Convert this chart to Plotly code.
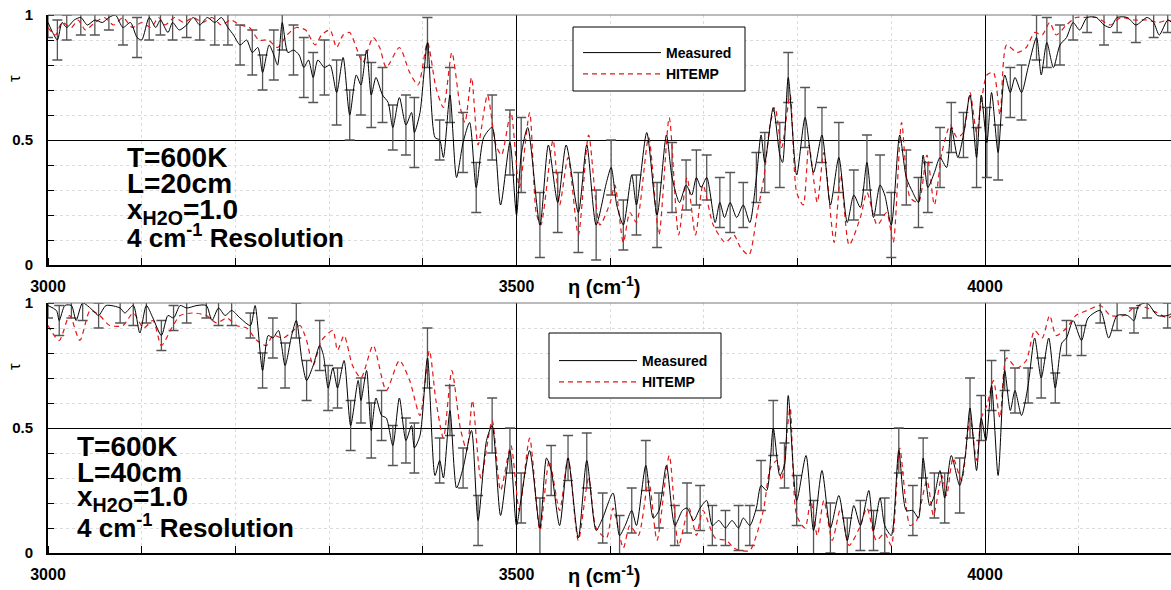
import plotly.graph_objects as go

# ---------------- data: transmissivity spectra (wavenumber in cm^-1) ----------------
# Upper panel: L = 20 cm
top_meas_x = [3000, 3005, 3010, 3015, 3020, 3028, 3035, 3042, 3050, 3058,
              3065, 3072, 3080, 3088, 3095, 3100, 3108, 3115, 3120, 3128,
              3133, 3140, 3148, 3155, 3162, 3170, 3178, 3185, 3192, 3198,
              3205, 3212, 3218, 3224, 3229, 3236, 3241, 3245, 3250, 3256,
              3262, 3268, 3273, 3278, 3283, 3288,
              3295, 3301, 3308, 3315, 3322, 3329, 3334, 3340, 3345, 3350,
              3357, 3363, 3368, 3375, 3382, 3388, 3391, 3397, 3405, 3413,
              3418, 3422, 3429, 3436, 3443, 3450, 3457, 3465, 3474, 3483,
              3493, 3500, 3505, 3512, 3525, 3534, 3544, 3553, 3566, 3575,
              3585,
              3596, 3601, 3607, 3614, 3623, 3628, 3639, 3650, 3660, 3666,
              3674, 3681, 3687, 3692, 3697, 3703, 3712, 3717, 3722, 3728,
              3735, 3742, 3749, 3756, 3761, 3765, 3774, 3781, 3784, 3790,
              3799, 3808, 3817, 3826, 3835, 3844, 3853, 3860, 3867, 3874,
              3881,
              3888, 3893, 3900, 3909, 3916, 3923, 3929, 3934, 3939, 3946,
              3952, 3959, 3964, 3971, 3977, 3984, 3991, 3996, 4002, 4007,
              4014, 4021, 4027, 4032, 4039, 4046, 4055, 4060, 4066, 4073,
              4080, 4087, 4094, 4101, 4109, 4119, 4127, 4134, 4141, 4152,
              4161, 4173, 4180, 4186, 4195, 4200]
top_meas_y = [0.97, 0.93, 0.90, 0.97, 0.95, 0.98, 0.99, 0.96, 0.98, 0.97,
              0.99, 1.00, 0.95, 0.97, 0.91, 0.90, 0.99, 0.95, 0.98, 0.93,
              0.97, 0.94, 0.96, 0.99, 0.96, 0.99, 0.97, 0.99, 0.95, 0.92,
              0.88, 0.90, 0.85, 0.87, 0.77, 0.88, 0.84, 0.80, 0.97, 0.85,
              0.86, 0.84, 0.79, 0.82, 0.75, 0.82,
              0.79, 0.80, 0.69, 0.83, 0.60, 0.76, 0.72, 0.86, 0.68, 0.75,
              0.68, 0.65, 0.55, 0.67, 0.56, 0.61, 0.53, 0.61, 0.89, 0.51,
              0.50, 0.43, 0.68, 0.35, 0.49, 0.57, 0.31, 0.51, 0.55, 0.24,
              0.49, 0.20, 0.44, 0.55, 0.16, 0.48, 0.25, 0.48, 0.21, 0.48,
              0.16,
              0.33, 0.39, 0.24, 0.16, 0.36, 0.24, 0.53, 0.20, 0.52, 0.35,
              0.25, 0.32, 0.28, 0.35, 0.31, 0.35, 0.17, 0.25, 0.19, 0.25,
              0.19, 0.24, 0.17, 0.35, 0.52, 0.41, 0.63, 0.44, 0.41, 0.75,
              0.36, 0.59, 0.37, 0.52, 0.24, 0.43, 0.17, 0.28, 0.23, 0.41,
              0.19,
              0.32, 0.28, 0.16, 0.52, 0.35, 0.29, 0.25, 0.44, 0.31, 0.37,
              0.43, 0.39, 0.55, 0.43, 0.52, 0.68, 0.43, 0.68, 0.49, 0.69,
              0.45, 0.76, 0.69, 0.75, 0.69, 0.79, 0.91, 0.76, 0.89, 0.79,
              0.88, 0.91, 0.97, 0.94, 0.99, 0.99, 0.96, 0.95, 0.99, 0.99,
              0.96, 0.99, 0.97, 0.92, 0.98, 0.97]
# half-widths of the uncertainty bars, one per second measured point
top_meas_err = [0.06, 0.08, 0.05, 0.07, 0.06, 0.05, 0.07, 0.08, 0.09, 0.06,
                0.07, 0.05, 0.06, 0.09, 0.07, 0.08, 0.09, 0.07, 0.10, 0.11,
                0.10, 0.12, 0.10, 0.11, 0.13, 0.10, 0.12, 0.13, 0.11, 0.09,
                0.12, 0.14, 0.10, 0.08, 0.11, 0.12, 0.10, 0.13, 0.13, 0.15,
                0.13, 0.12, 0.16, 0.14, 0.11, 0.10, 0.12, 0.13, 0.14, 0.10,
                0.11, 0.09, 0.10, 0.12, 0.09, 0.10, 0.12, 0.13, 0.10, 0.12,
                0.11, 0.14, 0.10, 0.11, 0.12, 0.13, 0.11, 0.10, 0.10, 0.12,
                0.10, 0.09, 0.12, 0.14, 0.11, 0.10, 0.11, 0.09, 0.10, 0.08,
                0.07, 0.06, 0.08, 0.06, 0.07, 0.06, 0.05]
top_hit_x = [3000, 3008, 3015, 3025, 3032, 3040, 3050, 3060, 3070, 3080,
             3090, 3100, 3110, 3118, 3125, 3135, 3145, 3155, 3165, 3175,
             3185, 3195, 3205, 3215, 3225, 3235, 3245, 3255, 3265, 3275,
             3285, 3292,
             3301, 3308, 3315, 3322, 3329, 3336, 3347, 3354, 3361, 3375,
             3386, 3395, 3405, 3414, 3422, 3431, 3440, 3445, 3452, 3459,
             3469, 3478, 3484, 3494, 3503, 3514, 3521, 3526, 3539, 3546,
             3555, 3566, 3577, 3589,
             3600, 3605, 3614, 3621, 3628, 3641, 3652, 3663, 3673, 3682,
             3691, 3699, 3710, 3723, 3732, 3739, 3748, 3757, 3764, 3771,
             3776, 3783, 3792, 3799, 3806, 3812, 3821, 3828, 3839, 3846,
             3855, 3867, 3874, 3885,
             3895, 3902, 3911, 3920, 3929, 3938, 3946, 3954, 3963, 3970,
             3977, 3984, 3991, 3996, 4002, 4009, 4016, 4023, 4034, 4044,
             4053, 4061, 4069, 4076, 4087, 4097, 4109, 4119, 4134, 4145,
             4159, 4173, 4185, 4195, 4200]
top_hit_y = [0.95, 0.92, 0.97, 0.95, 0.98, 0.94, 0.97, 0.99, 0.96, 0.99,
             0.95, 0.97, 0.95, 0.99, 0.96, 0.99, 0.97, 0.99, 0.97, 0.99,
             0.96, 0.98, 0.96, 0.95, 0.90, 0.90, 0.87, 0.92, 0.95, 0.94,
             0.88, 0.92,
             0.94, 0.87, 0.92, 0.93, 0.87, 0.81, 0.91, 0.87, 0.79, 0.87,
             0.77, 0.72, 0.89, 0.71, 0.63, 0.85, 0.63, 0.57, 0.75, 0.48,
             0.68, 0.48, 0.44, 0.61, 0.31, 0.61, 0.21, 0.16, 0.50, 0.24,
             0.43, 0.12, 0.52, 0.16,
             0.25, 0.32, 0.09, 0.21, 0.17, 0.51, 0.12, 0.59, 0.12, 0.35,
             0.12, 0.32, 0.16, 0.09, 0.12, 0.07, 0.04, 0.21, 0.35, 0.57,
             0.63, 0.47, 0.68, 0.29, 0.24, 0.48, 0.25, 0.45, 0.09, 0.36,
             0.08, 0.19, 0.29, 0.16,
             0.21, 0.09, 0.57, 0.27, 0.25, 0.44, 0.24, 0.45, 0.56, 0.51,
             0.53, 0.69, 0.53, 0.65, 0.76, 0.77, 0.60, 0.88, 0.85, 0.87,
             0.93, 0.92, 0.97, 0.92, 0.96, 0.99, 0.99, 0.99, 0.96, 0.99,
             0.98, 0.98, 0.97, 0.98, 0.97]

# Lower panel: L = 40 cm
bot_meas_x = [3000, 3009, 3012, 3018, 3025, 3030, 3037, 3048, 3054, 3062,
              3077, 3082, 3091, 3098, 3105, 3112, 3121, 3128, 3134, 3141,
              3148, 3159, 3169, 3175, 3182, 3189, 3196, 3205, 3216, 3221,
              3229, 3235, 3240, 3246, 3253, 3260, 3265, 3271, 3276, 3283,
              3290,
              3294, 3299, 3304, 3309, 3316, 3323, 3331, 3334, 3340, 3345,
              3350, 3356, 3361, 3368, 3375, 3382, 3388, 3391, 3397, 3405,
              3413, 3418, 3422, 3429, 3436, 3443, 3452, 3459, 3468, 3474,
              3483, 3493, 3500, 3505, 3514, 3525, 3532, 3537, 3546, 3555,
              3566, 3575, 3585, 3592,
              3603, 3610, 3616, 3623, 3628, 3638, 3646, 3652, 3660, 3669,
              3677, 3682, 3689, 3696, 3703, 3709, 3716, 3723, 3730, 3737,
              3742, 3749, 3756, 3761, 3767, 3774, 3781, 3786, 3790, 3799,
              3809, 3817, 3826, 3835, 3844, 3853, 3860, 3867, 3876, 3881,
              3888, 3893, 3900, 3908, 3916, 3923, 3929, 3934, 3941, 3946,
              3952, 3957, 3964, 3973, 3979, 3984, 3991, 3996, 4001, 4007,
              4014, 4021, 4027, 4032, 4039, 4046, 4053, 4060, 4068, 4075,
              4082, 4087, 4094, 4103, 4110, 4123, 4132, 4141, 4152, 4159,
              4164, 4173, 4184, 4195, 4200]
bot_meas_y = [0.99, 0.97, 0.93, 0.99, 0.99, 0.93, 1.00, 0.97, 0.95, 0.99,
              0.98, 0.96, 0.99, 0.88, 0.99, 0.94, 0.87, 0.95, 0.94, 0.99,
              0.98, 0.99, 0.99, 0.93, 0.98, 0.95, 0.97, 0.94, 0.91, 0.99,
              0.73, 0.87, 0.86, 0.89, 0.75, 0.87, 0.93, 0.77, 0.69, 0.75,
              0.83,
              0.79, 0.66, 0.74, 0.66, 0.77, 0.51, 0.69, 0.61, 0.73, 0.49,
              0.62, 0.55, 0.54, 0.43, 0.62, 0.45, 0.51, 0.42, 0.47, 0.78,
              0.31, 0.37, 0.30, 0.57, 0.26, 0.34, 0.49, 0.13, 0.45, 0.51,
              0.15, 0.41, 0.11, 0.22, 0.41, 0.10, 0.38, 0.33, 0.11, 0.38,
              0.06, 0.37, 0.09, 0.14,
              0.24, 0.07, 0.11, 0.17, 0.11, 0.35, 0.14, 0.17, 0.35, 0.11,
              0.17, 0.18, 0.13, 0.18, 0.21, 0.11, 0.13, 0.10, 0.13, 0.10,
              0.14, 0.11, 0.18, 0.27, 0.25, 0.50, 0.31, 0.35, 0.63, 0.21,
              0.39, 0.09, 0.33, 0.10, 0.23, 0.05, 0.19, 0.11, 0.25, 0.09,
              0.22, 0.11, 0.07, 0.41, 0.17, 0.17, 0.14, 0.38, 0.19, 0.23,
              0.33, 0.22, 0.39, 0.27, 0.39, 0.58, 0.33, 0.54, 0.45, 0.67,
              0.31, 0.73, 0.57, 0.65, 0.55, 0.67, 0.86, 0.70, 0.86, 0.66,
              0.84, 0.86, 0.93, 0.85, 0.94, 0.97, 0.86, 0.95, 0.95, 0.93,
              0.99, 1.00, 0.95, 0.95, 0.96]
bot_meas_err = [0.05, 0.06, 0.05, 0.07, 0.05, 0.06, 0.08, 0.07, 0.06, 0.05,
                0.06, 0.05, 0.07, 0.06, 0.05, 0.07, 0.08, 0.09, 0.07, 0.08,
                0.10, 0.09, 0.08, 0.10, 0.09, 0.11, 0.10, 0.08, 0.09, 0.10,
                0.12, 0.09, 0.10, 0.08, 0.10, 0.11, 0.09, 0.10, 0.12, 0.10,
                0.09, 0.11, 0.10, 0.08, 0.09, 0.10, 0.07, 0.08, 0.10, 0.09,
                0.08, 0.07, 0.09, 0.08, 0.10, 0.11, 0.09, 0.10, 0.12, 0.10,
                0.09, 0.10, 0.08, 0.11, 0.09, 0.10, 0.08, 0.09, 0.10, 0.11,
                0.12, 0.09, 0.10, 0.08, 0.09, 0.07, 0.08, 0.06, 0.07, 0.06,
                0.05, 0.06, 0.05, 0.06, 0.05]
bot_hit_x = [3000, 3012, 3023, 3034, 3045, 3055, 3066, 3080, 3091, 3102,
             3112, 3121, 3132, 3141, 3155, 3169, 3180, 3191, 3201, 3212,
             3223, 3233, 3240, 3251, 3262, 3269, 3276, 3283, 3292,
             3304, 3309, 3316, 3325, 3334, 3347, 3361, 3375, 3386, 3397,
             3407, 3414, 3422, 3431, 3440, 3447, 3453, 3462, 3474, 3483,
             3494, 3503, 3514, 3525, 3535, 3546, 3555, 3566, 3577, 3585,
             3596, 3603, 3614, 3621, 3630, 3641, 3650, 3663, 3673, 3684,
             3692, 3699, 3712, 3724, 3732, 3739, 3749, 3756, 3764, 3771,
             3778, 3783, 3792, 3799, 3808, 3814, 3821, 3828, 3837, 3846,
             3855, 3866, 3874, 3884,
             3893, 3900, 3909, 3920, 3927, 3938, 3945, 3954, 3959, 3966,
             3975, 3984, 3991, 3996, 4002, 4009, 4016, 4023, 4034, 4044,
             4053, 4061, 4069, 4076, 4087, 4097, 4109, 4123, 4134, 4148,
             4162, 4173, 4184, 4195, 4200]
bot_hit_y = [0.91, 0.85, 0.95, 0.85, 0.97, 0.95, 0.91, 0.91, 0.96, 0.90,
             0.93, 0.83, 0.90, 0.95, 0.96, 0.95, 0.92, 0.94, 0.91, 0.90,
             0.85, 0.83, 0.87, 0.86, 0.89, 0.91, 0.85, 0.75, 0.85,
             0.89, 0.81, 0.87, 0.75, 0.70, 0.83, 0.65, 0.77, 0.69, 0.55,
             0.81, 0.61, 0.46, 0.73, 0.50, 0.41, 0.61, 0.30, 0.53, 0.25,
             0.43, 0.17, 0.46, 0.09, 0.37, 0.17, 0.38, 0.05, 0.30, 0.10,
             0.06, 0.18, 0.02, 0.11, 0.07, 0.29, 0.05, 0.39, 0.03, 0.18,
             0.07, 0.17, 0.06, 0.05, 0.02, 0.01, 0.01, 0.07, 0.18, 0.34,
             0.37, 0.29, 0.58, 0.15, 0.10, 0.21, 0.07, 0.21, 0.05, 0.18,
             0.03, 0.10, 0.18, 0.05,
             0.08, 0.03, 0.42, 0.11, 0.13, 0.29, 0.15, 0.31, 0.23, 0.38,
             0.29, 0.54, 0.37, 0.54, 0.59, 0.69, 0.54, 0.78, 0.74, 0.77,
             0.89, 0.86, 0.95, 0.87, 0.90, 0.95, 0.97, 0.99, 0.95, 0.95,
             0.99, 0.98, 0.96, 0.94, 0.95]

panel_notes = [
    ["T=600K", "L=20cm", "x<sub>H2O</sub>=1.0", "4 cm<sup>-1</sup> Resolution"],
    ["T=600K", "L=40cm", "x<sub>H2O</sub>=1.0", "4 cm<sup>-1</sup> Resolution"],
]
x_ticks = [3000, 3500, 4000]
y_ticks = [0, 0.5, 1]
y_ticktext = ["0", "0.5", "1"]

# ---------------- figure ----------------
W, H = 1171, 590
ML = 48  # left margin in px
FONT = "Arial, Liberation Sans, sans-serif"
RED = "rgb(226,24,24)"


def px_x(px):
    """horizontal pixel -> paper fraction"""
    return (px - ML) / (W - ML)


def px_y(py):
    """vertical pixel (from top) -> paper fraction"""
    return (H - py) / H


fig = go.Figure()

panels = [
    (top_meas_x, top_meas_y, top_meas_err, top_hit_x, top_hit_y, "x", "y", "legend"),
    (bot_meas_x, bot_meas_y, bot_meas_err, bot_hit_x, bot_hit_y, "x2", "y2", "legend2"),
]
for mx, my, merr, hx, hy, xa, ya, lg in panels:
    # uncertainty bars on every second measured sample
    fig.add_trace(go.Scatter(
        x=mx[::2], y=my[::2], mode="markers", xaxis=xa, yaxis=ya,
        marker=dict(size=2, color="rgba(0,0,0,0)"),
        error_y=dict(type="data", array=merr, color="#555555", thickness=1.3, width=5),
        showlegend=False, hoverinfo="skip"))
    fig.add_trace(go.Scatter(
        x=hx, y=hy, mode="lines", name="HITEMP", xaxis=xa, yaxis=ya, legend=lg,
        legendrank=2,
        line=dict(color=RED, width=1.2, dash="5px,4px", shape="spline", smoothing=0.7)))
    fig.add_trace(go.Scatter(
        x=mx, y=my, mode="lines", name="Measured", xaxis=xa, yaxis=ya, legend=lg,
        legendrank=1,
        line=dict(color="black", width=1, shape="spline", smoothing=0.7)))

x_range = [3000, 3000 + (W - ML) / 0.937]


def xaxis_style(anchor):
    return dict(
        anchor=anchor, range=x_range, tickvals=x_ticks,
        showgrid=True, gridcolor="black", gridwidth=1, zeroline=False,
        showline=True, linecolor="black", linewidth=2, ticks="",
        ticklabelstandoff=6,
        tickfont=dict(family=FONT, size=16, color="black", weight="bold"),
        minor=dict(dtick=100, tick0=3000, ticks="inside", ticklen=7, tickcolor="black",
                   tickwidth=1, showgrid=True, gridcolor="#dcdcdc", griddash="dot",
                   gridwidth=1),
    )


def yaxis_style(anchor, domain):
    return dict(
        anchor=anchor, domain=domain, range=[0, 1], tickvals=y_ticks, ticktext=y_ticktext,
        showgrid=True, gridcolor="black", gridwidth=1, zeroline=False,
        showline=True, linecolor="black", linewidth=2, ticks="",
        ticklabelstandoff=10,
        tickfont=dict(family=FONT, size=15, color="black", weight="bold"),
        minor=dict(dtick=0.1, tick0=0, ticks="inside", ticklen=6, tickcolor="black",
                   tickwidth=1, showgrid=True, gridcolor="#dcdcdc", griddash="dot",
                   gridwidth=1),
    )


top_dom = [px_y(265), px_y(15)]
bot_dom = [px_y(553), px_y(303)]

legend_common = dict(
    bgcolor="rgba(0,0,0,0)", borderwidth=0, itemwidth=78,
    font=dict(family=FONT, size=14, color="black", weight="bold"),
    xanchor="left", yanchor="top", tracegroupgap=0, xref="paper", yref="paper",
)

fig.update_layout(
    width=W, height=H,
    margin=dict(l=ML, r=0, t=0, b=0, autoexpand=False),
    paper_bgcolor="white", plot_bgcolor="white",
    xaxis=xaxis_style("y"),
    yaxis=yaxis_style("x", top_dom),
    xaxis2=xaxis_style("y2"),
    yaxis2=yaxis_style("x2", bot_dom),
    legend=dict(x=px_x(578), y=px_y(37), **legend_common),
    legend2=dict(x=px_x(554), y=px_y(345), **legend_common),
)

# legend frames
for x0, y0, x1, y1 in ((573, 27, 745, 91), (549, 333, 721, 398)):
    fig.add_shape(type="rect", xref="paper", yref="paper",
                  x0=px_x(x0), x1=px_x(x1), y0=px_y(y1), y1=px_y(y0),
                  line=dict(color="black", width=1), fillcolor="white", layer="above")

# thin grey frame edge along the top of each panel
for xa, ya in (("x", "y"), ("x2", "y2")):
    fig.add_shape(type="line", xref=f"{xa} domain", yref=f"{ya} domain",
                  x0=0, x1=1, y0=1, y1=1, line=dict(color="#777777", width=1))

annots = []
# condition notes inside each panel
note_rows = [[157, 184, 211, 236], [446, 472, 498, 526]]
note_left = [125, 75]
note_sizes = [28, 28, 28, 26]
for notes, rows, left in zip(panel_notes, note_rows, note_left):
    for txt, py, fs in zip(notes, rows, note_sizes):
        annots.append(dict(text=f"<b>{txt}</b>", xref="paper", yref="paper",
                           x=px_x(left), y=px_y(py), xanchor="left", yanchor="middle",
                           showarrow=False, font=dict(family=FONT, size=fs, color="black")))
# axis titles
for py in (285, 574):
    annots.append(dict(text="<b>η (cm<sup>-1</sup>)</b>", xref="paper", yref="paper",
                       x=px_x(604), y=px_y(py), xanchor="center", yanchor="middle",
                       showarrow=False, font=dict(family=FONT, size=20, color="black")))
for py in (79, 367):
    annots.append(dict(text="τ", xref="paper", yref="paper", textangle=-90,
                       x=px_x(14), y=px_y(py), xanchor="center", yanchor="middle",
                       showarrow=False, font=dict(family=FONT, size=17, color="black")))
fig.update_layout(annotations=annots)

fig.write_html("out.html")
